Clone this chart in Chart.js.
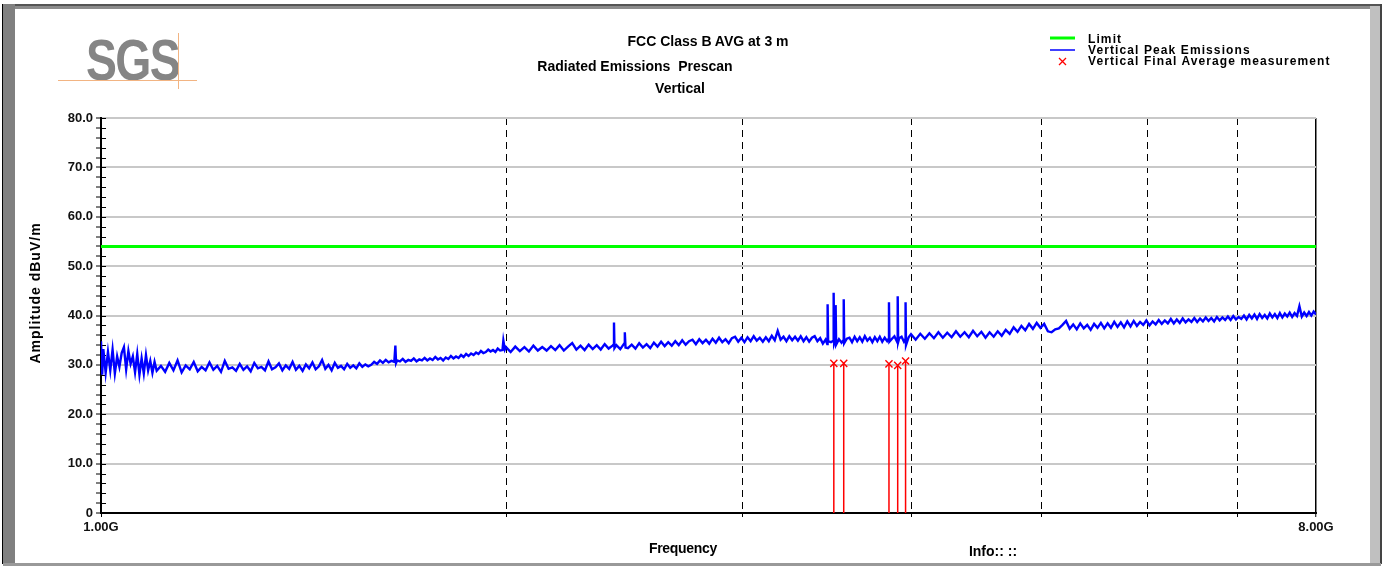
<!DOCTYPE html>
<html>
<head>
<meta charset="utf-8">
<title>FCC Class B AVG at 3 m</title>
<script src="https://cdn.jsdelivr.net/npm/chart.js@4.4.0/dist/chart.umd.min.js"></script>
<style>
  html, body { margin: 0; padding: 0; background: #fff; }
  body { width: 1385px; height: 566px; position: relative; overflow: hidden;
         font-family: "Liberation Sans", Arial, sans-serif; color: #000; }
  .bar { position: absolute; }
  #scan-chart { position: absolute; left: 0; top: 0; }
  .txt { position: absolute; font-weight: bold; white-space: pre; }
  .title { width: 400px; text-align: center; font-size: 14px; line-height: 16px; }
  #logo { position: absolute; left: 86px; top: 31px; font-family: "Liberation Sans", sans-serif;
          font-weight: bold; font-size: 58px; line-height: 58px; color: #858585; letter-spacing: -2px;
          transform: scaleX(0.8); transform-origin: left top; }
  .legend-row { position: absolute; left: 1050px; height: 11px; font-size: 12px; line-height: 11px;
                font-weight: bold; letter-spacing: 1.1px; white-space: pre; }
  .legend-row svg { position: absolute; left: 0; top: 0; }
  .legend-row span { position: absolute; left: 38px; top: 0; }
</style>
</head>
<body>
<!-- window frame -->
<div class="bar" style="left:3px;top:4px;width:1378px;height:2px;background:#555;"></div>
<div class="bar" style="left:3px;top:6px;width:1378px;height:3px;background:#8c8c8c;"></div>
<div class="bar" style="left:2px;top:4px;width:1px;height:560px;background:#000;"></div>
<div class="bar" style="left:3px;top:4px;width:12px;height:560px;background:#808080;"></div>
<div class="bar" style="left:1370px;top:6px;width:10px;height:558px;background:#c0c0c0;"></div>
<div class="bar" style="left:1380px;top:4px;width:2px;height:560px;background:#444;"></div>
<div class="bar" style="left:3px;top:563px;width:1378px;height:3px;background:#999;"></div>

<!-- logo -->
<div id="logo">SGS</div>
<div class="bar" style="left:58px;top:80px;width:139px;height:1px;background:#f2b482;"></div>
<div class="bar" style="left:178px;top:33px;width:1px;height:56px;background:#f2b482;"></div>

<canvas id="scan-chart" width="1385" height="566"></canvas>

<!-- titles -->
<div class="txt title" style="left:508px;top:33px;">FCC Class B AVG at 3 m</div>
<div class="txt title" style="left:435px;top:58px;">Radiated Emissions  Prescan</div>
<div class="txt title" style="left:480px;top:80px;">Vertical</div>
<div class="txt" style="left:-65px;top:285px;width:200px;text-align:center;font-size:14px;line-height:16px;letter-spacing:1px;transform:rotate(-90deg);">Amplitude dBuV/m</div>
<div class="txt title" style="left:483px;top:540px;letter-spacing:-0.3px;">Frequency</div>
<div class="txt title" style="left:793px;top:543px;">Info:: ::</div>

<!-- legend -->
<div class="legend-row" style="top:34px;">
  <svg width="30" height="11"><line x1="0" y1="4" x2="25" y2="4" stroke="#00ff00" stroke-width="3"/></svg>
  <span>Limit</span>
</div>
<div class="legend-row" style="top:45px;">
  <svg width="30" height="11"><line x1="0" y1="5" x2="25" y2="5" stroke="#0000ff" stroke-width="1.5"/></svg>
  <span>Vertical Peak Emissions</span>
</div>
<div class="legend-row" style="top:56px;">
  <svg width="30" height="11"><path d="M9 2 L16 9 M16 2 L9 9" stroke="#ff0000" stroke-width="1.3" fill="none"/></svg>
  <span>Vertical Final Average measurement</span>
</div>

<script>
// Axis setup
const freqMinMHz = 1000;
const freqMaxMHz = 8000;
const xTickMHz = [1000, 2000, 3000, 4000, 5000, 6000, 7000, 8000];
const xTickLabels = { 1000: '1.00G', 8000: '8.00G' };
const ampMin = 0;
const ampMax = 80;

// Limit line (dBuV/m)
const limitDb = 54;

// Peak prescan trace: [frequency MHz, level dBuV/m]
const peakScan = [
  [1000,34.8],[1002,28.0],[1004,33.2],[1008,28.4],[1012,32.6],[1016,28.9],[1020,33.1],[1024,28.3],[1028,31.7],[1032,29.6],
  [1036,32.4],[1040,33.6],[1044,29.1],[1048,32.8],[1052,30.2],[1056,31.7],[1060,28.5],[1064,32.2],[1068,28.0],[1072,31.3],
  [1076,28.3],[1080,32.0],[1084,28.9],[1088,30.8],[1092,28.4],[1096,30.6],[1100,28.8],
  [1108,29.8],[1116,28.6],[1124,30.4],[1132,28.9],[1140,30.9],[1148,28.5],[1156,29.9],[1164,29.1],[1172,30.6],[1180,28.7],
  [1188,29.6],[1196,28.9],[1204,30.5],[1212,29.0],[1220,29.8],[1228,28.6],[1236,30.8],[1244,29.2],[1252,29.5],[1260,28.8],
  [1268,30.2],[1276,29.0],[1284,29.7],[1292,28.7],[1300,30.4],[1308,29.3],[1316,29.6],[1324,28.9],[1332,30.7],[1340,29.1],
  [1348,29.5],[1356,30.3],[1364,28.9],[1372,29.9],[1380,29.2],[1388,30.6],[1396,29.0],[1404,29.8],[1412,28.8],[1420,30.1],
  [1428,29.3],[1436,30.5],[1444,29.1],[1452,29.7],[1460,31.0],[1468,29.2],[1476,30.0],[1484,28.9],[1492,30.4],[1500,29.4],
  [1508,29.8],[1516,29.1],[1524,30.2],[1532,29.4],[1540,29.9],[1548,29.3],[1556,30.3],[1564,29.6],[1572,30.1],[1580,29.7],
  [1588,30.0],[1596,30.6],[1604,30.2],[1612,30.9],[1620,30.4],[1628,31.0],[1636,30.5],[1644,30.8],[1652,30.6],[1655,33.9],
  [1657,30.4],[1660,30.9],
  [1668,30.7],[1676,31.2],[1684,30.6],[1692,31.0],[1700,30.8],[1708,31.3],[1716,30.7],[1724,31.1],[1732,30.9],[1740,31.4],
  [1748,30.9],[1756,31.3],[1764,31.0],[1772,31.6],[1780,31.1],[1788,31.4],[1796,30.9],[1804,31.5],[1812,31.2],[1820,31.8],
  [1828,31.3],[1836,31.7],[1844,31.4],[1852,32.0],[1860,31.6],[1868,32.2],[1876,31.8],[1884,32.3],[1892,32.0],[1900,32.5],
  [1908,32.2],[1916,32.8],[1924,32.4],[1932,32.6],[1940,33.1],[1948,32.7],[1956,33.0],[1964,32.6],[1972,33.3],[1980,32.9],
  [1988,33.0],[1991,34.9],[1996,33.1],
  [2000,33.6],[2016,32.6],[2032,33.7],[2048,32.8],[2064,33.6],[2080,32.7],[2096,33.9],[2112,32.9],[2128,33.6],[2144,32.9],
  [2160,33.8],[2176,33.0],[2192,34.0],[2208,32.9],[2224,33.7],[2240,34.4],[2256,33.1],[2272,33.9],[2288,33.0],[2304,34.1],
  [2320,33.2],[2336,34.0],[2352,33.1],[2368,34.2],[2384,33.3],[2400,33.9],[2404,34.1],[2406,38.6],[2408,33.4],[2416,34.0],
  [2432,33.2],[2448,34.3],[2451,36.6],[2454,33.5],[2464,33.4],
  [2480,34.1],[2496,33.3],[2512,34.4],[2528,33.5],[2544,34.2],[2560,33.4],[2576,34.5],[2592,33.7],[2608,34.7],[2624,33.8],
  [2640,34.6],[2656,33.9],[2672,34.8],[2688,34.0],[2704,35.0],[2720,34.1],[2736,34.8],[2752,35.1],[2768,34.2],[2784,35.2],
  [2800,34.4],[2816,35.1],[2832,34.3],[2848,35.3],[2864,34.5],[2880,35.5],[2896,34.6],[2912,35.2],[2928,34.4],[2944,35.4],
  [2960,35.7],[2976,34.7],[2992,35.5],[3008,34.6],[3024,35.6],[3040,34.8],[3056,35.8],[3072,34.9],[3088,35.5],[3104,34.7],
  [3120,35.6],[3136,34.8],[3152,35.9],[3168,35.0],[3184,36.9],[3200,35.1],[3216,35.7],[3232,34.8],[3248,35.8],[3264,35.0],
  [3280,35.7],[3296,34.9],[3312,35.8],[3328,34.8],[3344,35.6],[3360,34.7],[3376,35.5],[3392,35.8],[3408,34.8],[3424,35.4],
  [3440,34.3],[3456,35.1],[3466,34.2],[3468,42.3],[3471,34.8],[3488,34.6],[3502,34.9],[3504,44.6],[3507,34.3],[3514,35.0],
  [3516,42.1],[3519,34.1],[3536,35.2],[3552,34.5],[3563,35.0],[3565,43.3],[3568,34.4],[3584,35.3],
  [3600,35.5],[3616,34.6],[3632,35.7],[3648,34.8],[3664,35.6],[3680,34.7],[3696,35.8],[3712,34.9],[3728,35.5],[3744,34.6],
  [3760,35.6],[3776,34.8],[3792,35.7],[3808,34.7],[3824,35.5],[3840,34.8],[3850,35.3],[3852,42.7],[3855,34.7],[3872,35.3],
  [3888,35.8],[3904,34.8],[3908,35.3],[3910,43.9],[3913,34.6],[3920,35.4],[3936,35.7],[3952,34.7],[3961,35.2],[3963,42.7],
  [3966,34.0],[3984,35.6],
  [4000,36.2],[4032,35.1],[4064,36.3],[4096,35.3],[4128,36.4],[4160,35.4],[4192,36.6],[4224,35.5],[4256,36.5],[4288,35.6],
  [4320,36.8],[4352,35.7],[4384,36.6],[4416,35.6],[4448,36.9],[4480,35.8],[4512,36.7],[4544,35.5],[4576,36.6],[4608,35.7],
  [4640,36.8],[4672,35.9],[4704,37.1],[4736,36.3],[4768,37.6],[4800,36.7],[4832,37.9],[4864,37.0],[4896,38.3],[4928,37.3],
  [4960,38.5],[4992,37.5],[5024,38.3],[5056,36.8],[5088,36.6],[5120,37.2],[5152,37.4],[5184,38.1],[5216,38.9],[5248,37.3],
  [5280,38.2],[5312,37.2],[5344,38.4],[5376,37.4],[5408,38.1],[5440,37.1],[5472,38.3],[5504,37.5],[5536,38.5],[5568,37.4],
  [5600,38.4],[5632,37.5],[5664,38.7],[5696,37.7],[5728,38.6],[5760,37.6],[5792,38.8],[5824,37.8],[5856,38.9],[5888,37.9],
  [5920,38.7],[5952,38.1],[5984,39.0],[6016,38.0],[6048,38.8],[6080,38.2],[6112,39.1],[6144,38.3],[6176,39.0],[6208,38.4],
  [6240,39.3],[6272,38.4],[6304,39.2],[6336,38.5],[6368,39.4],[6400,38.6],[6432,39.2],[6464,38.7],[6496,39.5],[6528,38.7],
  [6560,39.4],[6592,38.8],[6624,39.6],[6656,38.9],[6688,39.5],[6720,38.8],[6752,39.7],[6784,39.0],[6816,39.6],[6848,39.1],
  [6880,39.8],[6912,39.1],[6944,39.9],[6976,39.2],[7008,39.7],[7040,39.3],[7072,40.0],[7104,39.2],[7136,40.1],[7168,39.4],
  [7200,40.2],[7232,39.3],[7264,40.3],[7296,39.5],[7328,40.1],[7360,39.4],[7392,40.4],[7424,39.6],[7456,40.3],[7488,39.5],
  [7520,40.5],[7552,39.6],[7584,40.4],[7616,39.8],[7648,40.6],[7680,39.7],[7712,40.5],[7744,39.9],[7776,41.9],[7808,39.8],
  [7840,40.6],[7872,39.9],[7904,40.7],[7936,40.0],[7968,40.8],[8000,40.2]
];

// Final average measurements
const finalFreqMHz = [3505, 3565, 3852, 3910, 3963];
const finalAvgDb = [30.3, 30.3, 30.2, 29.9, 30.8];

// Short ticks that cross the y axis into the plot
const innerTicks = {
  id: 'innerTicks',
  beforeDatasetsDraw(chart) {
    const yScale = chart.scales.y;
    const c = chart.ctx;
    const left = chart.chartArea.left;
    c.save();
    c.strokeStyle = '#000';
    c.lineWidth = 1;
    yScale.ticks.forEach(t => {
      const py = Math.round(yScale.getPixelForValue(t.value)) + 0.5;
      c.beginPath();
      c.moveTo(left, py);
      c.lineTo(left + 5, py);
      c.stroke();
    });
    c.restore();
  }
};

function buildChart() {
  Chart.defaults.font.family = '"Liberation Sans", Arial, sans-serif';
  Chart.defaults.font.weight = 'bold';
  Chart.defaults.color = '#111';

  // stems from 0 up to each final reading, split by null gaps
  const stems = [];
  finalFreqMHz.forEach((f, i) => {
    stems.push({ x: f, y: 0 }, { x: f, y: finalAvgDb[i] }, { x: f, y: null });
  });

  const ctx = document.getElementById('scan-chart').getContext('2d');
  new Chart(ctx, {
    type: 'line',
    data: {
      datasets: [
        {
          label: 'Limit',
          data: [{ x: freqMinMHz, y: limitDb }, { x: freqMaxMHz, y: limitDb }],
          borderColor: '#00ff00',
          borderWidth: 3,
          pointRadius: 0
        },
        {
          label: 'Vertical Peak Emissions',
          data: peakScan.map(([f, v]) => ({ x: f, y: v })),
          borderColor: '#0000ff',
          borderWidth: 2.4,
          pointRadius: 0,
          tension: 0
        },
        {
          label: 'stems',
          data: stems,
          borderColor: '#ff0000',
          borderWidth: 1.5,
          pointRadius: 0,
          spanGaps: false
        },
        {
          label: 'Vertical Final Average measurement',
          data: finalFreqMHz.map((f, i) => ({ x: f, y: finalAvgDb[i] })),
          showLine: false,
          pointStyle: 'crossRot',
          pointRadius: 5,
          pointBorderColor: '#ff0000',
          pointBorderWidth: 1.4
        }
      ]
    },
    options: {
      responsive: false,
      animation: false,
      events: [],
      layout: { padding: { left: 20, top: 118, right: 69, bottom: 10 } },
      plugins: {
        legend: { display: false },
        title: { display: false },
        tooltip: { enabled: false }
      },
      scales: {
        x: {
          type: 'logarithmic',
          min: freqMinMHz,
          max: freqMaxMHz,
          afterBuildTicks: scale => { scale.ticks = xTickMHz.map(v => ({ value: v })); },
          afterFit: scale => { scale.height = 43; },
          ticks: {
            autoSkip: false,
            maxRotation: 0,
            padding: 3,
            font: { size: 13, weight: 'bold' },
            color: '#111',
            callback: value => xTickLabels[value] || ''
          },
          grid: {
            color: c => (c.tick && c.tick.value === freqMinMHz) ? 'rgba(0,0,0,0)' : '#000',
            lineWidth: c => (c.tick && c.tick.value === freqMaxMHz) ? 1.5 : 1,
            tickLength: 4,
            tickColor: '#000',
            tickWidth: 1
          },
          border: {
            color: '#000',
            width: 2,
            dash: c => (c.tick && c.tick.value !== freqMaxMHz) ? [7, 5] : []
          }
        },
        y: {
          min: ampMin,
          max: ampMax,
          afterFit: scale => { scale.width = 81; },
          ticks: {
            stepSize: 2,
            autoSkip: false,
            padding: 3,
            font: { size: 13, weight: 'bold' },
            color: '#111',
            callback: value => value % 10 === 0 ? (value === 0 ? '0' : value.toFixed(1)) : ''
          },
          grid: {
            color: c => (c.tick && c.tick.value % 10 === 0 && c.tick.value !== 0) ? '#c8c8c8' : 'rgba(0,0,0,0)',
            lineWidth: 2,
            tickLength: 5,
            tickColor: '#000',
            tickWidth: 1
          },
          border: { color: '#000', width: 2 }
        }
      }
    },
    plugins: [innerTicks]
  });
}

buildChart();
</script>
</body>
</html>
